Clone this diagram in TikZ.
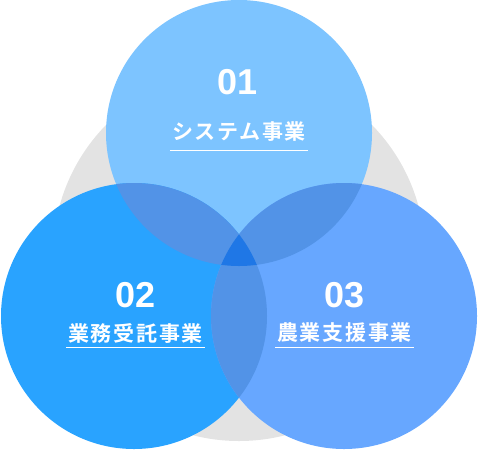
\documentclass[tikz,border=0pt]{standalone}
\usepackage{fontspec}
\setmainfont{Liberation Sans}
\newfontfamily\numfont{Liberation Sans}
\newfontfamily\jpfont[LetterSpace=8]{Noto Sans CJK JP Bold}
\definecolor{ctop}{HTML}{7DC4FF}
\definecolor{cleft}{HTML}{29A3FF}
\definecolor{cright}{HTML}{67A7FF}
\definecolor{cpair}{HTML}{5293E7}
\definecolor{ctriple}{HTML}{1F77E6}
\definecolor{cgray}{HTML}{E3E3E3}
\tikzset{
  numtext/.style={text=white, font=\numfont\bfseries\fontsize{36}{40}\selectfont, inner sep=0pt},
  jptext/.style={text=white, font=\jpfont\fontsize{21}{24}\selectfont, inner sep=0pt},
  uline/.style={draw=white, line width=1pt},
}
\begin{document}
\begin{tikzpicture}[x=1pt,y=-1pt]
\useasboundingbox (0,0) rectangle (478,450);
\fill[cgray] (239,255) circle (186);
\fill[ctop] (239,133) circle (133);
\fill[cleft] (134,316) circle (133);
\fill[cright] (344,316) circle (133);
\begin{scope}
  \clip (239,133) circle (133);
  \fill[cpair] (134,316) circle (133);
  \fill[cpair] (344,316) circle (133);
\end{scope}
\begin{scope}
  \clip (134,316) circle (133);
  \fill[cpair] (344,316) circle (133);
\end{scope}
\begin{scope}
  \clip (239,133) circle (133);
  \clip (134,316) circle (133);
  \fill[ctriple] (344,316) circle (133);
\end{scope}
% top
\node[numtext] (n1) at (238,82) {01};
\node[jptext] (t1) at (239,132) {システム事業};
\coordinate (u1a) at (170,150);
\coordinate (u1b) at (308,150);
\draw[uline] (u1a) -- (u1b);
% left
\node[numtext] (n2) at (136,295) {02};
\node[jptext] (t2) at (135.5,333) {業務受託事業};
\coordinate (u2a) at (66,347);
\coordinate (u2b) at (205,347);
\draw[uline] (u2a) -- (u2b);
% right
\node[numtext] (n3) at (344.5,295) {03};
\node[jptext] (t3) at (344.5,333) {農業支援事業};
\coordinate (u3a) at (275,347);
\coordinate (u3b) at (414,347);
\draw[uline] (u3a) -- (u3b);
\end{tikzpicture}
\end{document}
